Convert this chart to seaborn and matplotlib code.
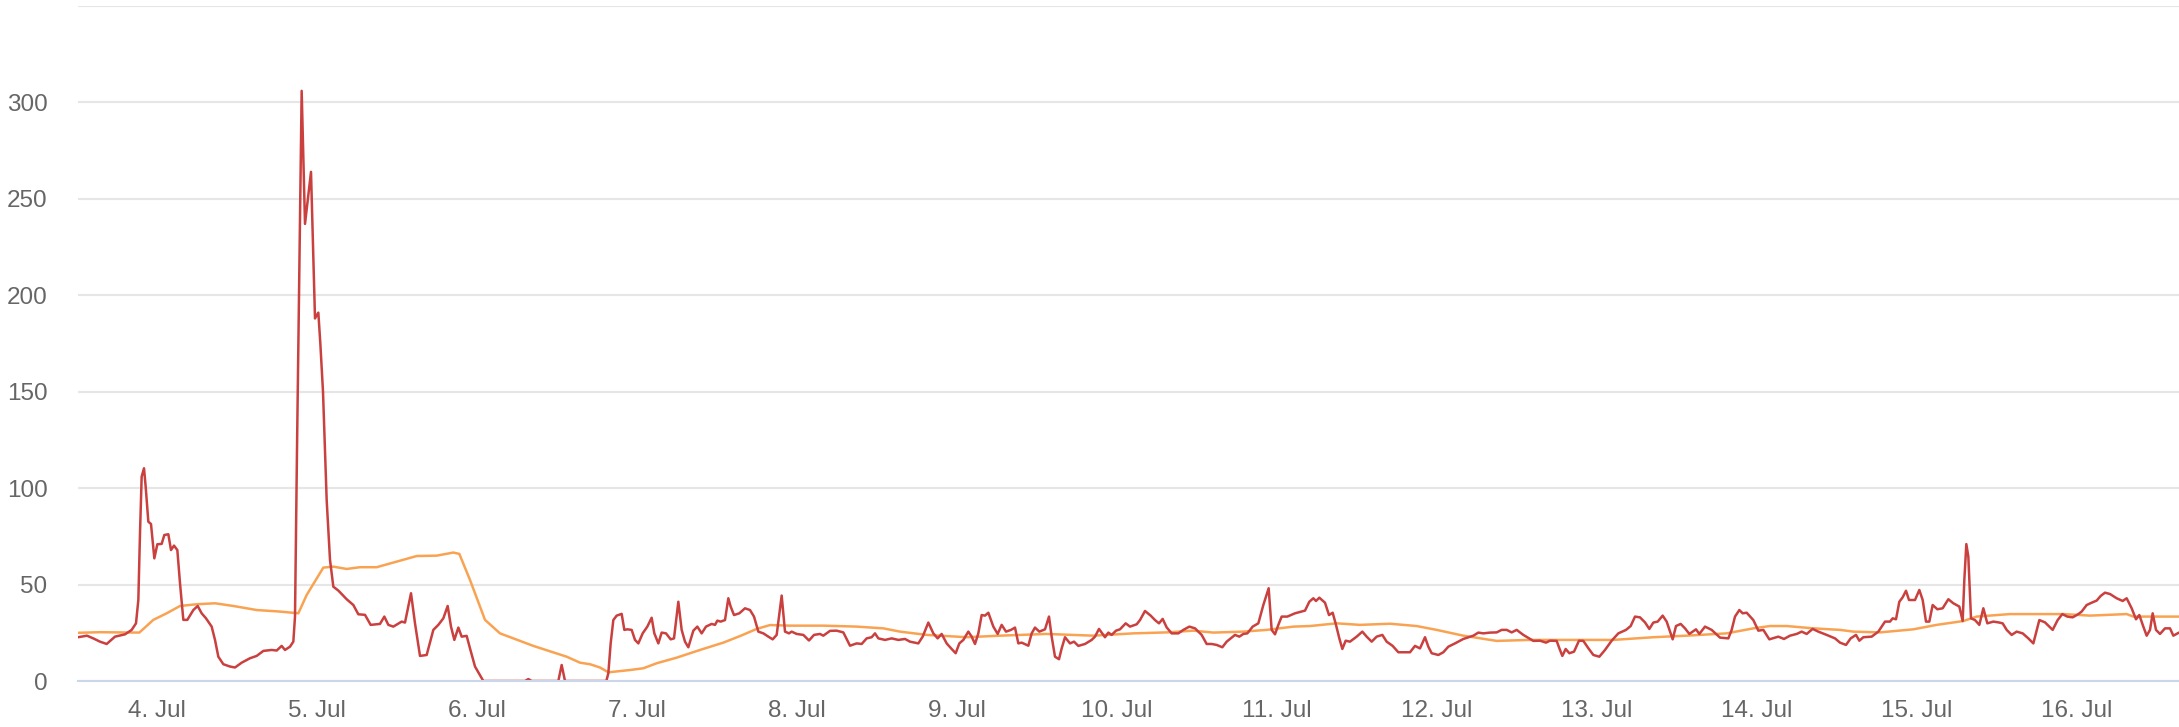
import matplotlib
matplotlib.use("Agg")
import matplotlib.pyplot as plt
import matplotlib.dates as mdates
from matplotlib.ticker import FuncFormatter, MultipleLocator
import pandas as pd
import seaborn as sns

# hours counted from 4 Jul 00:00
red_hours = [
    -11.85, -10.5, -9.5, -8.55, -7.55, -6.3, -4.8, -3.8, -3.15, -2.8, -2.55, -2.3, -1.95, -1.7,
    -1.3, -0.9, -0.4, 0.05, 0.7, 1.1, 1.7, 2.1, 2.55, 3.05, 3.45, 3.95, 4.55, 5.45, 6.1, 6.7,
    7.35, 8.2, 8.7, 9.2, 9.95, 10.95, 11.7, 12.7, 13.95, 14.95, 15.95, 17.2, 17.95, 18.7, 19.2,
    19.95, 20.45, 20.7, 21.0, 21.7, 22.2, 23.1, 23.7, 24.2, 24.5, 24.9, 25.45, 25.95, 26.45,
    27.2, 28.45, 29.45, 30.2, 31.2, 32.05, 33.45, 34.1, 34.7, 35.45, 36.7, 37.2, 38.1, 38.7,
    39.45, 40.45, 41.45, 42.2, 42.95, 43.6, 44.1, 44.6, 45.2, 45.7, 46.45, 46.95, 47.7, 48.95,
    55.2, 55.7, 56.2, 60.2, 60.7, 61.2, 67.4, 67.7, 68.05, 68.45, 68.95, 69.7, 70.1, 70.55,
    71.2, 71.7, 72.2, 72.85, 73.55, 74.2, 74.6, 75.2, 75.7, 76.35, 77.05, 77.55, 78.2, 78.7,
    79.2, 79.7, 80.45, 81.05, 81.7, 82.35, 83.2, 83.7, 84.05, 84.55, 85.2, 85.7, 86.05, 86.55,
    87.35, 88.2, 88.95, 89.55, 90.2, 90.95, 91.7, 92.35, 92.95, 93.7, 94.2, 94.8, 95.2, 95.95,
    96.95, 97.8, 98.55, 99.45, 99.95, 100.95, 101.95, 102.95, 103.95, 104.95, 105.7, 106.45,
    107.2, 107.7, 108.2, 109.2, 110.2, 111.2, 112.2, 112.95, 114.2, 114.85, 115.7, 116.45,
    117.1, 117.7, 118.45, 119.2, 119.8, 120.35, 120.95, 121.7, 122.2, 122.7, 123.2, 123.7,
    124.2, 124.7, 125.45, 126.1, 126.7, 127.35, 128.1, 128.7, 129.2, 129.7, 130.7, 131.2,
    131.7, 132.35, 133.2, 133.8, 134.2, 134.7, 135.3, 135.7, 136.2, 136.95, 137.55, 138.2,
    139.2, 140.2, 140.7, 141.3, 142.2, 142.7, 143.2, 143.85, 144.45, 145.3, 145.95, 146.95,
    147.45, 148.2, 149.05, 149.7, 150.3, 150.85, 151.45, 152.2, 153.2, 153.95, 154.85, 155.7,
    156.7, 157.45, 158.2, 158.95, 159.8, 160.45, 161.7, 162.35, 162.95, 163.55, 164.35, 165.2,
    165.95, 166.75, 167.2, 167.7, 168.2, 168.7, 169.55, 170.7, 172.2, 172.85, 173.45, 173.85,
    174.35, 175.2, 175.8, 176.35, 176.85, 177.35, 177.8, 178.3, 178.95, 179.95, 180.8, 181.45,
    182.2, 182.95, 183.8, 184.45, 185.35, 186.2, 186.95, 187.95, 188.7, 189.45, 190.2, 190.7,
    191.2, 192.2, 192.95, 193.7, 194.7, 195.95, 197.45, 198.2, 198.95, 199.95, 200.95, 201.7,
    202.45, 203.2, 203.95, 204.95, 206.45, 207.45, 208.35, 208.95, 209.95, 210.35, 210.8,
    211.3, 211.85, 212.55, 213.3, 213.95, 214.7, 215.45, 216.35, 217.2, 218.2, 219.2, 220.35,
    221.05, 221.7, 222.45, 223.2, 223.85, 224.45, 225.1, 225.85, 226.45, 226.95, 227.35,
    227.85, 228.55, 229.2, 229.85, 230.85, 231.35, 232.2, 233.2, 234.45, 235.7, 236.2, 236.7,
    237.35, 237.85, 238.45, 239.45, 240.2, 240.95, 241.85, 243.2, 244.05, 244.95, 245.95,
    246.7, 247.45, 248.35, 249.2, 250.45, 251.7, 252.45, 253.35, 254.05, 254.85, 255.35,
    255.95, 257.2, 258.2, 259.2, 259.95, 260.35, 260.85, 261.35, 261.85, 262.35, 262.8, 263.7,
    264.35, 264.85, 265.35, 265.85, 266.35, 267.05, 267.85, 268.7, 269.45, 270.35, 270.85,
    271.1, 271.4, 271.7, 272.1, 272.7, 273.35, 273.95, 274.55, 275.45, 276.2, 276.85, 277.45,
    278.2, 278.95, 279.85, 280.7, 281.45, 282.35, 283.2, 284.35, 285.1, 285.8, 286.55, 287.35,
    288.2, 288.7, 289.45, 290.2, 290.95, 291.55, 292.2, 292.95, 293.95, 294.85, 295.45, 296.2,
    296.85, 297.35, 297.95, 298.45, 298.95, 299.35, 299.85, 300.45, 301.2, 301.95, 302.45, 303.3,
]
red_values = [
    22.7, 23.5, 22.0, 20.4, 19.2, 23.0, 24.2, 26.5, 29.9, 42, 76.6, 106, 110.3, 100.8,
    82.6, 81.4, 63.6, 70.9, 71.1, 75.7, 76.1, 67.9, 70.2, 67.9, 50.7, 31.7, 31.7, 36.8, 38.9, 35.1,
    32.5, 28.2, 21.3, 12.6, 8.7, 7.5, 7.0, 9.5, 11.8, 13.0, 15.6, 16.1, 15.8, 18.2, 16.1,
    17.8, 20.4, 33.4, 120, 306, 237, 264, 188, 191, 175, 150, 93.9, 62.8, 48.9,
    46.9, 42.4, 39.4, 34.6, 34.3, 29.1, 29.6, 33.4, 29.1, 28.2, 30.8, 30.3, 45.5, 29.9,
    13.0, 13.5, 26.5, 29.1, 32.5, 38.9, 28.2, 21.3, 27.7, 23.0, 23.4, 16.9, 7.5, 0,
    0, 1.0, 0, 0, 8.3, 0, 0, 4, 19.5, 31.6, 33.9, 34.8, 26.5, 26.8,
    26.5, 21.3, 19.5, 24.7, 28.2, 32.8, 24.7, 19.5, 25.1, 24.7, 21.6, 22.1, 41.1, 26.5,
    20.4, 17.5, 26.1, 28.2, 24.7, 28.2, 29.6, 29.1, 31.3, 30.8, 31.6, 42.9, 38.6, 34.2,
    35.1, 37.7, 36.8, 33.4, 25.6, 24.7, 23.0, 21.6, 23.9, 44.3, 25.6, 24.7, 25.6, 24.4,
    23.9, 21.0, 23.9, 24.4, 23.5, 26.0, 26.1, 25.2, 18.3, 19.5, 19.2, 22.1,
    22.7, 24.7, 22.1, 21.3, 22.1, 21.3, 21.8, 20.4, 19.5, 23.0, 30.3, 24.7,
    22.1, 24.4, 19.5, 16.6, 14.4, 19.5, 21.3, 25.6, 23.0, 19.2, 24.7, 34.2,
    33.9, 35.4, 28.2, 24.4, 29.1, 25.6, 26.5, 27.7, 19.5, 19.9, 18.3, 24.7,
    27.7, 25.6, 26.8, 33.4, 23.0, 12.6, 11.3, 16.9, 22.7, 19.5, 20.4, 18.2,
    19.2, 21.3, 23.0, 27.0, 22.7, 25.1, 23.9, 26.1, 26.8, 29.9, 28.2, 29.4,
    31.6, 36.3, 33.9, 31.6, 29.9, 32.2, 27.8, 24.7, 24.7, 26.5, 28.2, 27.3,
    23.9, 19.2, 19.2, 18.7, 17.5, 20.4, 23.9, 23.0, 24.4, 24.7, 28.2, 29.9,
    39.4, 48.1, 26.5, 24.2, 29.1, 33.4, 33.4, 35.1, 36.5, 41.1, 42.9, 41.5,
    43.2, 40.6, 34.2, 35.4, 29.1, 22.1, 16.6, 20.9, 20.4, 23.0, 25.6, 23.0,
    20.4, 23.0, 23.9, 20.4, 18.2, 14.9, 14.9, 14.9, 18.2, 16.9, 22.7, 17.8,
    14.4, 13.5, 14.9, 17.8, 19.5, 21.8, 23.5, 25.1, 24.7, 25.1, 25.2, 26.5,
    26.5, 25.2, 26.5, 23.9, 20.8, 20.9, 19.9, 20.9, 20.8, 17.0, 13.0,
    16.6, 14.4, 15.2, 20.9, 20.8, 17.0, 13.5, 12.6, 16.1, 20.9, 24.7, 26.5,
    28.5, 33.4, 33.0, 30.4, 27.0, 30.3, 30.8, 33.9, 30.8, 25.6, 21.6,
    28.5, 29.6, 27.3, 24.4, 26.8, 24.4, 28.2, 26.5, 22.5, 22.1, 26.5, 33.4,
    36.8, 35.1, 35.4, 31.6, 26.1, 26.5, 21.6, 23.0, 21.8, 23.5, 24.4,
    25.6, 24.4, 27.0, 25.6, 23.9, 22.1, 19.9, 18.7, 22.1, 23.9, 20.9,
    22.7, 23.0, 25.6, 30.8, 30.8, 32.5, 32.0, 41.1, 43.4, 46.8, 42.0, 42.0,
    47.2, 42.0, 30.8, 30.8, 39.4, 37.2, 37.7, 42.4, 40.3, 38.6, 31.1,
    52.4, 71.0, 64.5, 32.5, 31.6, 29.1, 37.7, 29.9, 30.8, 30.4, 29.9, 26.5,
    23.9, 25.6, 24.7, 22.1, 19.5, 31.6, 30.4, 26.5, 31.6, 34.7, 33.4, 33.0,
    34.7, 36.0, 39.4, 40.6, 41.7, 44.1, 45.8, 45.1, 42.9, 41.5, 42.9, 37.7,
    32.0, 34.2, 28.2, 23.5, 26.5, 35.1, 26.5, 24.4, 27.3, 27.3, 23.5, 25.1,
]

avg_hours = [
    -11.85, -8.55, -2.65, -0.55, 1.45, 3.45, 5.95, 8.7, 11.45, 14.95, 18.45, 21.2, 22.45,
    24.95, 26.45, 28.45, 30.45, 32.95, 35.95, 38.95, 41.95, 44.45, 45.35, 46.95, 49.2, 51.45,
    56.45, 61.45, 63.45, 64.95, 66.45, 67.7, 70.95, 72.95, 74.95, 77.95, 81.45, 84.95, 87.45,
    89.95, 91.95, 94.95, 99.95, 104.95, 108.95, 111.45, 115.45, 121.45, 126.45, 133.45,
    140.45, 146.45, 151.45, 155.45, 158.45, 162.95, 166.45, 170.45, 172.95, 176.95, 180.45,
    184.95, 188.95, 191.95, 195.95, 200.95, 205.95, 211.95, 218.45, 224.45, 229.45, 235.45,
    239.45, 241.95, 244.45, 248.45, 252.45, 254.45, 258.45, 263.45, 266.95, 270.95, 272.95,
    277.95, 285.95, 289.95, 295.45, 296.45, 303.3,
]
avg_values = [
    25.0, 25.3, 25.1, 31.7, 35.1, 38.9, 39.8, 40.3, 38.9, 36.8, 36.0, 35.1, 44.6,
    58.8, 59.3, 58.1, 59.0, 59.0, 61.9, 64.8, 65.0, 66.6, 65.9, 52.4, 31.7, 24.7,
    18.2, 12.6, 9.5, 8.7, 7.0, 4.5, 5.7, 6.6, 9.2, 12.1, 16.1, 19.9, 23.3,
    27.0, 29.0, 28.7, 28.7, 28.2, 27.3, 25.6, 23.9, 22.7, 23.5, 24.4,
    23.5, 24.7, 25.2, 26.1, 25.1, 25.6, 26.5, 28.2, 28.5, 29.9, 29.1,
    29.7, 28.5, 26.5, 23.5, 20.8, 21.3, 21.3, 21.3, 22.7, 23.5, 24.7,
    27.3, 28.5, 28.5, 27.3, 26.5, 25.6, 25.2, 26.8, 29.1, 31.1, 33.4,
    34.7, 34.7, 33.9, 34.7, 33.4, 33.4,
]

start = pd.Timestamp("2020-07-04")
red = pd.DataFrame({"time": start + pd.to_timedelta(red_hours, unit="h"), "value": red_values})
avg = pd.DataFrame({"time": start + pd.to_timedelta(avg_hours, unit="h"), "value": avg_values})

sns.set_style("white")
plt.rcParams["font.family"] = ["Liberation Sans", "DejaVu Sans"]

W, H = 2179, 727
fig = plt.figure(figsize=(W / 100, H / 100), dpi=100)
ax = fig.add_axes([78 / W, 46 / H, 1 - 78 / W, 675 / H])

sns.lineplot(data=avg, x="time", y="value", ax=ax, color="#f9a352", linewidth=1.8,
             estimator=None, sort=False, zorder=3, solid_joinstyle="round")
sns.lineplot(data=red, x="time", y="value", ax=ax, color="#c9403f", linewidth=1.8,
             estimator=None, sort=False, zorder=4, solid_joinstyle="round")

ax.set_xlim(start + pd.Timedelta(hours=-11.85), start + pd.Timedelta(hours=303.3))
ax.set_ylim(0, 350)
ax.yaxis.set_major_locator(MultipleLocator(50))
ax.yaxis.set_major_formatter(FuncFormatter(lambda v, p: "" if v > 300 else f"{v:.0f}"))
ax.xaxis.set_major_locator(mdates.DayLocator())
ax.xaxis.set_major_formatter(FuncFormatter(
    lambda v, p: f"{mdates.num2date(v).day}. {mdates.num2date(v):%b}"))

ax.grid(axis="y", color="#e6e6e6", linewidth=1.5)
ax.grid(axis="x", visible=False)
ax.set_axisbelow(True)
for side in ["top", "left", "right"]:
    ax.spines[side].set_visible(False)
ax.spines["bottom"].set_color("#ccd6eb")
ax.spines["bottom"].set_linewidth(1.5)
ax.spines["bottom"].set_zorder(5)

ax.tick_params(axis="y", length=0, pad=22, labelsize=17.5, labelcolor="#666666")
ax.tick_params(axis="x", length=14, width=1.5, color="#ccd6eb", pad=0,
               labelsize=17.5, labelcolor="#666666")
ax.set_xlabel("")
ax.set_ylabel("")

fig.savefig("out.png", dpi=100)
